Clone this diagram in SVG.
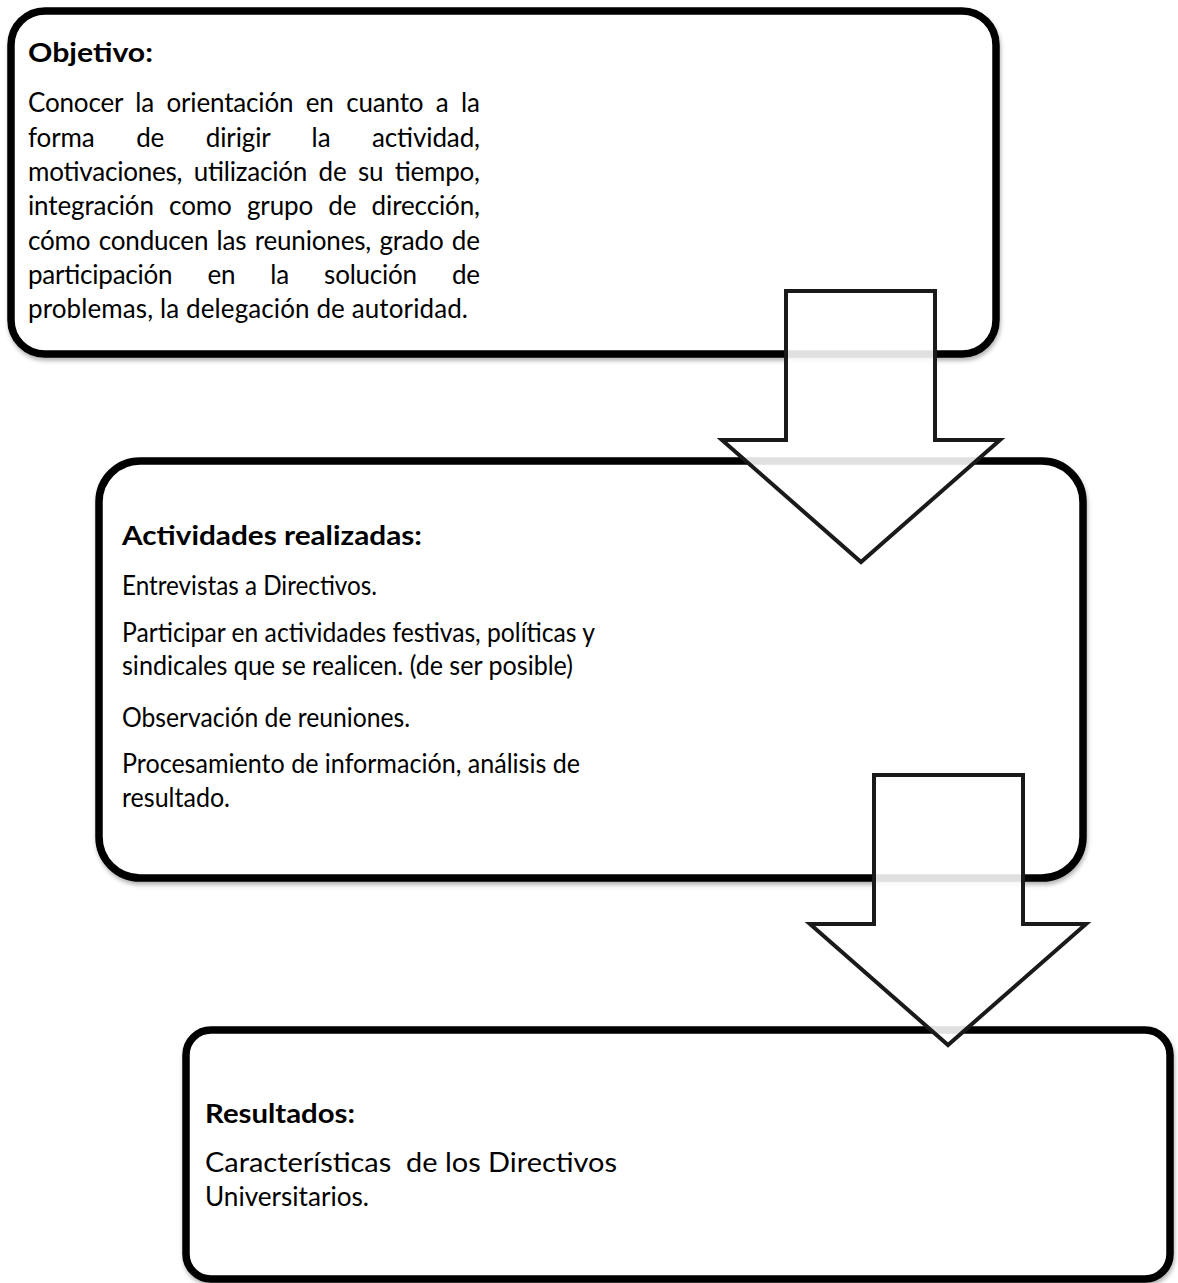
<svg xmlns="http://www.w3.org/2000/svg" width="1178" height="1283" viewBox="0 0 1178 1283">
<style>
.box{fill:#fff;stroke:#000;stroke-width:7.5;filter:url(#sh)}
.arrow{fill:#fff;fill-opacity:0.88;stroke:#1a1a1a;stroke-width:4;stroke-linejoin:miter}
.t{font-family:Lato,"Open Sans","Liberation Sans",sans-serif;font-size:26px;fill:#000}
.b{font-weight:bold}
</style>
<defs>
<filter id="sh" x="-5%" y="-5%" width="110%" height="115%">
<feDropShadow dx="1" dy="3" stdDeviation="2" flood-color="#000" flood-opacity="0.3"/>
</filter>
</defs>
<g id="node-objetivo">
<rect class="box" x="11" y="11" width="985" height="343" rx="34" ry="34"/>
<text class="t b" x="28" y="62" textLength="125" lengthAdjust="spacingAndGlyphs">Objetivo:</text>
<text class="t" x="28" y="112" word-spacing="6" textLength="452" lengthAdjust="spacing">Conocer la orientación en cuanto a la</text>
<text class="t" x="28" y="147" word-spacing="35" textLength="452" lengthAdjust="spacing">forma de dirigir la actividad,</text>
<text class="t" x="28" y="181" word-spacing="5" textLength="452" lengthAdjust="spacing">motivaciones, utilización de su tiempo,</text>
<text class="t" x="28" y="215" word-spacing="8.7" textLength="452" lengthAdjust="spacing">integración como grupo de dirección,</text>
<text class="t" x="28" y="250" word-spacing="1.8" textLength="452" lengthAdjust="spacing">cómo conducen las reuniones, grado de</text>
<text class="t" x="28" y="284" word-spacing="28.7" textLength="452" lengthAdjust="spacing">participación en la solución de</text>
<text class="t" x="28" y="318" textLength="440" lengthAdjust="spacing">problemas, la delegación de autoridad.</text>
</g>
<g id="node-actividades">
<rect class="box" x="99" y="461" width="984" height="417" rx="41" ry="41"/>
<text class="t b" x="122" y="545" textLength="300" lengthAdjust="spacingAndGlyphs">Actividades realizadas:</text>
<text class="t" x="122" y="595" textLength="255" lengthAdjust="spacingAndGlyphs">Entrevistas a Directivos.</text>
<text class="t" x="122" y="642" textLength="473" lengthAdjust="spacingAndGlyphs">Participar en actividades festivas, políticas y</text>
<text class="t" x="122" y="675" textLength="451" lengthAdjust="spacingAndGlyphs">sindicales que se realicen. (de ser posible)</text>
<text class="t" x="122" y="727" textLength="288" lengthAdjust="spacingAndGlyphs">Observación de reuniones.</text>
<text class="t" x="122" y="773" textLength="458" lengthAdjust="spacingAndGlyphs">Procesamiento de información, análisis de</text>
<text class="t" x="122" y="807" textLength="108" lengthAdjust="spacingAndGlyphs">resultado.</text>
</g>
<g id="node-resultados">
<rect class="box" x="186" y="1030" width="984" height="249" rx="25" ry="25"/>
<text class="t b" x="205" y="1123" textLength="150" lengthAdjust="spacingAndGlyphs">Resultados:</text>
<text class="t" x="205" y="1172" textLength="412" lengthAdjust="spacingAndGlyphs" xml:space="preserve">Características  de los Directivos</text>
<text class="t" x="205" y="1206" textLength="164" lengthAdjust="spacingAndGlyphs">Universitarios.</text>
</g>
<g id="connectors">
<polygon id="arrow-1" class="arrow" points="786,291 935,291 935,440 1000,440 861,562 722,440 786,440"/>
<polygon id="arrow-2" class="arrow" points="874,775 1023,775 1023,924 1086,924 948,1045 810,924 874,924"/>
</g>
</svg>
